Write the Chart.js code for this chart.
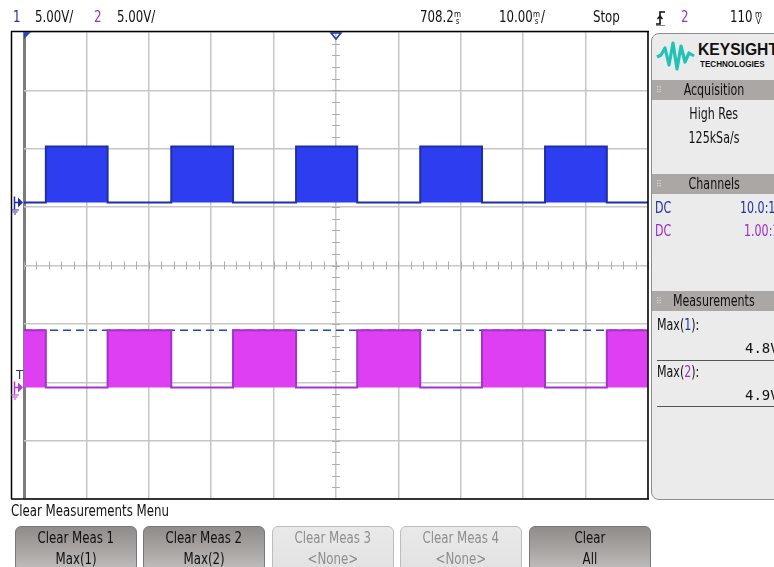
<!DOCTYPE html>
<html>
<head>
<meta charset="utf-8">
<script src="https://cdn.jsdelivr.net/npm/chart.js@4/dist/chart.umd.min.js"></script>
<style>
  html, body { margin: 0; padding: 0; background: #fff; }
  body { width: 774px; height: 567px; overflow: hidden; position: relative;
         font-family: "DejaVu Sans Condensed", "Liberation Sans", sans-serif; color: #111; }
  #scope { position: absolute; left: 0; top: 0; }
  .t { position: absolute; white-space: nowrap; line-height: 1; transform: scaleX(0.82); transform-origin: 0 0; }
  .top { top: 9px; font-size: 16px; }
  .stack { position: absolute; font-size: 8px; line-height: 7px; text-align: center; }
  .c1 { color: #23309e; }
  .c2 { color: #9a2fc6; }
  .sx { display: inline-block; transform: scaleX(0.82); transform-origin: 50% 50%; white-space: nowrap; }
  #panel { position: absolute; left: 651px; top: 33px; width: 130px; height: 465px;
           background: #ebebeb; border: 1px solid #8d8d8d; border-radius: 8px 0 0 8px; overflow: hidden; }
  .hdr { position: absolute; left: 0; width: 130px; height: 20px; background: #aaa7a5;
         font-size: 15px; line-height: 20px; }
  .hdr .grip { position: absolute; left: 4px; top: 0; font-size: 9px; color: #d8d8d8; letter-spacing: -1px; }
  .hdr .lbl { position: absolute; left: 0; width: 124px; text-align: center; }
  .pt { position: absolute; font-size: 15px; line-height: 1; white-space: nowrap; transform: scaleX(0.82); transform-origin: 0 0; }
  .ctr { position: absolute; left: 0; width: 124px; text-align: center; font-size: 15px; line-height: 1; }
  .mono { font-family: "DejaVu Sans Mono", "Liberation Mono", monospace; font-size: 14px; transform: none; }
  .rule { position: absolute; left: 5px; width: 130px; height: 1px; background: #555; }
  .btn { position: absolute; top: 526px; width: 122px; height: 46px; border-radius: 6px;
         text-align: center; font-size: 16px; line-height: 21px; box-sizing: border-box; }
  .on { background: linear-gradient(#8f8c8a, #a9a6a4 55%, #c2c0be); border: 1px solid #7a7877; color: #111; }
  .off { background: linear-gradient(#e9e9e9, #e2e2e2); border: 1px solid #bdbdbd; color: #8e8e8e; }
</style>
</head>
<body>
<canvas id="scope" width="774" height="567"></canvas>

<!-- status line -->
<span class="t top c1" style="left:13px">1</span>
<span class="t top" style="left:35px">5.00V/</span>
<span class="t top c2" style="left:94px">2</span>
<span class="t top" style="left:117px">5.00V/</span>
<span class="t top" style="left:420px">708.2</span><span class="stack" style="left:454px;top:11px">m<br>s</span>
<span class="t top" style="left:499px">10.00</span><span class="stack" style="left:533px;top:11px">m<br>s</span><span class="t top" style="left:541px">/</span>
<span class="t top" style="left:593px">Stop</span>
<svg style="position:absolute;left:655px;top:10px" width="12" height="16" viewBox="0 0 12 16">
  <path d="M1 14 H5 V2 H10" fill="none" stroke="#111" stroke-width="1.6"/>
  <path d="M2.5 9 L5 6 L7.5 9" fill="none" stroke="#111" stroke-width="1.4"/>
  <path d="M1 16 H10" stroke="#111" stroke-width="1"/>
</svg>
<span class="t top c2" style="left:681px">2</span>
<span class="t top" style="left:730px">110</span><span class="stack" style="left:755px;top:11px">m<br>V</span>

<!-- side panel -->
<div id="panel">
  <svg style="position:absolute;left:4px;top:6px" width="40" height="32" viewBox="0 0 40 32">
    <path d="M1 17 L5 15 L9 8 L13 25 L17 3 L21 29 L25 6 L29 22 L33 13 L38 16"
          fill="none" stroke="#20c3b5" stroke-width="3.2" stroke-linejoin="round"/>
  </svg>
  <div class="pt" style="left:46px;top:7px;font-family:'Liberation Sans',Arial,sans-serif;font-weight:bold;font-size:17px;transform:scaleX(0.92)">KEYSIGHT</div>
  <div class="pt" style="left:48px;top:26px;font-family:'Liberation Sans',Arial,sans-serif;font-weight:bold;font-size:8.5px;transform:scaleX(0.95)">TECHNOLOGIES</div>

  <div class="hdr" style="top:46px"><span class="grip">⠿</span><span class="lbl"><span class="sx">Acquisition</span></span></div>
  <div class="ctr" style="top:73px"><span class="sx">High Res</span></div>
  <div class="ctr" style="top:97px"><span class="sx">125kSa/s</span></div>

  <div class="hdr" style="top:140px"><span class="grip">⠿</span><span class="lbl"><span class="sx">Channels</span></span></div>
  <div class="pt c1" style="left:3px;top:167px">DC</div>
  <div class="pt c1" style="left:88px;top:167px">10.0:1</div>
  <div class="pt c2" style="left:3px;top:190px">DC</div>
  <div class="pt c2" style="left:92px;top:190px">1.00:1</div>

  <div class="hdr" style="top:257px"><span class="grip">⠿</span><span class="lbl"><span class="sx">Measurements</span></span></div>
  <div class="pt" style="left:5px;top:284px">Max(<span class="c1">1</span>):</div>
  <div class="pt mono" style="left:93px;top:307px">4.8V</div>
  <div class="rule" style="top:326px"></div>
  <div class="pt" style="left:5px;top:331px">Max(<span class="c2">2</span>):</div>
  <div class="pt mono" style="left:93px;top:354px">4.9V</div>
  <div class="rule" style="top:372px"></div>
</div>

<!-- softkey menu -->
<span class="t" style="left:11px;top:503px;font-size:16px">Clear Measurements Menu</span>
<div class="btn on"  style="left:15px"><span class="sx">Clear Meas 1</span><br><span class="sx">Max(1)</span></div>
<div class="btn on"  style="left:143px"><span class="sx">Clear Meas 2</span><br><span class="sx">Max(2)</span></div>
<div class="btn off" style="left:272px"><span class="sx">Clear Meas 3</span><br><span class="sx">&lt;None&gt;</span></div>
<div class="btn off" style="left:400px"><span class="sx">Clear Meas 4</span><br><span class="sx">&lt;None&gt;</span></div>
<div class="btn on"  style="left:529px"><span class="sx">Clear</span><br><span class="sx">All</span></div>

<script>
// Timebase and vertical settings
const timeRefMs = 708.2;      // horizontal delay (screen centre)
const timePerDivMs = 10;      // 10 ms/div
const hDivs = 10;
const vDivs = 8;
const ch1VoltsPerDiv = 5;
const ch2VoltsPerDiv = 5;
const ch1CenterV = -5.4;      // channel offsets (voltage at screen centre)
const ch2CenterV = 10.45;

// Channel 1: burst edges (ms), starts low, alternates rise / fall
const ch1Edges = [661.7, 671.6, 681.8, 691.7, 701.8, 711.6, 721.7, 731.6, 741.7, 751.6];
const ch1HighV = 4.8;
// Channel 2: burst edges (ms), starts high, alternates fall / rise
const ch2Edges = [661.7, 671.6, 681.8, 691.7, 701.8, 711.6, 721.7, 731.6, 741.7, 751.6];
const ch2HighV = 4.9;
// Measurement results
const measNames = ["Max(1)", "Max(2)"];
const measValues = [4.8, 4.9];

const tMin = timeRefMs - timePerDivMs * hDivs / 2;
const tMax = timeRefMs + timePerDivMs * hDivs / 2;

function traceFromEdges(edges, highV, startHigh) {
  let level = startHigh ? highV : 0;
  const pts = [{x: tMin, y: level}];
  edges.forEach(t => {
    pts.push({x: t, y: level});
    level = level === 0 ? highV : 0;
    pts.push({x: t, y: level});
  });
  pts.push({x: tMax, y: level});
  return pts;
}

const ch1Data = traceFromEdges(ch1Edges, ch1HighV, false);
const ch2Data = traceFromEdges(ch2Edges, ch2HighV, true);

const gridGrey = '#c6c6c6';

// Frame, centre-axis minor ticks and channel markers
const scopeDecor = {
  id: 'scopeDecor',
  beforeDatasetsDraw(chart) {
    const ctx = chart.ctx;
    const xg = chart.scales.xg, yg = chart.scales.yg;
    const cx = xg.getPixelForValue(0), cy = yg.getPixelForValue(0);
    ctx.save();
    ctx.strokeStyle = '#ababab';
    ctx.lineWidth = 1;
    ctx.beginPath();
    for (let k = -vDivs * 5 / 2; k <= vDivs * 5 / 2; k++) {
      const y = Math.round(yg.getPixelForValue(k / 5)) + 0.5;
      ctx.moveTo(cx - 4, y); ctx.lineTo(cx + 4, y);
    }
    for (let k = -hDivs * 5 / 2; k <= hDivs * 5 / 2; k++) {
      const x = Math.round(xg.getPixelForValue(k / 5)) + 0.5;
      ctx.moveTo(x, cy - 4); ctx.lineTo(x, cy + 4);
    }
    ctx.stroke();
    ctx.restore();
  },
  afterDatasetsDraw(chart) {
    const ctx = chart.ctx, a = chart.chartArea;
    ctx.save();
    // outer frame
    ctx.strokeStyle = '#000';
    ctx.lineWidth = 1.5;
    ctx.beginPath();
    ctx.moveTo(11, 31.5); ctx.lineTo(a.right + 1, 31.5);
    ctx.moveTo(11, a.bottom); ctx.lineTo(a.right + 1, a.bottom);
    ctx.moveTo(11.5, 31); ctx.lineTo(11.5, a.bottom);
    ctx.moveTo(a.right, 31); ctx.lineTo(a.right, a.bottom);
    ctx.stroke();

    // trigger-position flag and time reference marker
    const ref = chart.scales.x.getPixelForValue(timeRefMs);
    ctx.fillStyle = '#2a45b8';
    ctx.beginPath();
    ctx.moveTo(a.left, 32); ctx.lineTo(a.left + 7, 32); ctx.lineTo(a.left, 39); ctx.closePath();
    ctx.fill();
    ctx.strokeStyle = '#23309e';
    ctx.lineWidth = 1.5;
    ctx.beginPath();
    ctx.moveTo(ref - 5, 33); ctx.lineTo(ref + 5, 33); ctx.lineTo(ref, 39); ctx.closePath();
    ctx.stroke();

    // channel ground markers
    function marker(y, color) {
      ctx.strokeStyle = color; ctx.fillStyle = color; ctx.lineWidth = 1.5;
      ctx.beginPath();
      ctx.moveTo(14.5, y - 6); ctx.lineTo(14.5, y + 7);
      ctx.moveTo(14.5, y); ctx.lineTo(18, y);
      ctx.stroke();
      ctx.beginPath();
      ctx.moveTo(18, y - 5); ctx.lineTo(23, y); ctx.lineTo(18, y + 5); ctx.closePath();
      ctx.fill();
      ctx.lineWidth = 1;
      ctx.beginPath();
      ctx.moveTo(11, y + 7.5); ctx.lineTo(19, y + 7.5);
      ctx.moveTo(12.5, y + 9.5); ctx.lineTo(17.5, y + 9.5);
      ctx.moveTo(14, y + 11.5); ctx.lineTo(16, y + 11.5);
      ctx.stroke();
    }
    const y1g = chart.scales.y1.getPixelForValue(0);
    const y2g = chart.scales.y2.getPixelForValue(0);
    marker(y1g, '#23309e');
    marker(y2g, '#b43ad8');
    ctx.fillStyle = '#23309e';
    ctx.font = '13px "DejaVu Sans Condensed", sans-serif';
    ctx.textBaseline = 'alphabetic';
    ctx.fillText('T', 16, y2g - 9);
    ctx.restore();
  }
};

new Chart(document.getElementById('scope'), {
  type: 'scatter',
  data: {
    datasets: [
      {
        label: 'Channel 2',
        data: ch2Data,
        yAxisID: 'y2',
        showLine: true,
        pointRadius: 0,
        borderColor: '#a233cc',
        borderWidth: 2,
        backgroundColor: '#df3ff2',
        fill: {value: 0}
      },
      {
        label: 'Channel 1',
        data: ch1Data,
        yAxisID: 'y1',
        showLine: true,
        pointRadius: 0,
        borderColor: '#1f2fa8',
        borderWidth: 2,
        backgroundColor: '#2c3ef0',
        fill: {value: 0}
      },
      {
        label: measNames[1],
        data: [{x: tMin, y: measValues[1]}, {x: tMax, y: measValues[1]}],
        yAxisID: 'y2',
        showLine: true,
        pointRadius: 0,
        borderColor: '#2647a8',
        borderWidth: 1.6,
        borderDash: [8, 5],
        fill: false
      }
    ]
  },
  options: {
    responsive: false,
    animation: false,
    layout: {padding: {left: 24, top: 32, right: 126, bottom: 68}},
    plugins: {legend: {display: false}, tooltip: {enabled: false}},
    scales: {
      x: {type: 'linear', min: tMin, max: tMax, display: false},
      y1: {type: 'linear', min: ch1CenterV - ch1VoltsPerDiv * vDivs / 2, max: ch1CenterV + ch1VoltsPerDiv * vDivs / 2, display: false},
      y2: {type: 'linear', min: ch2CenterV - ch2VoltsPerDiv * vDivs / 2, max: ch2CenterV + ch2VoltsPerDiv * vDivs / 2, display: false},
      xg: {
        type: 'linear', position: 'bottom', min: -hDivs / 2, max: hDivs / 2,
        ticks: {display: false, stepSize: 1},
        border: {display: false},
        grid: {
          drawTicks: false,
          color: c => c.index === 0 ? '#7c7c7c' : gridGrey,
          lineWidth: c => c.index === 0 ? 3 : 1.5
        },
        afterFit: s => { s.height = 0; }
      },
      yg: {
        type: 'linear', position: 'left', min: -vDivs / 2, max: vDivs / 2,
        ticks: {display: false, stepSize: 1},
        border: {display: false},
        grid: {drawTicks: false, color: gridGrey, lineWidth: 1.5},
        afterFit: s => { s.width = 0; }
      }
    }
  },
  plugins: [scopeDecor]
});
</script>
</body>
</html>
